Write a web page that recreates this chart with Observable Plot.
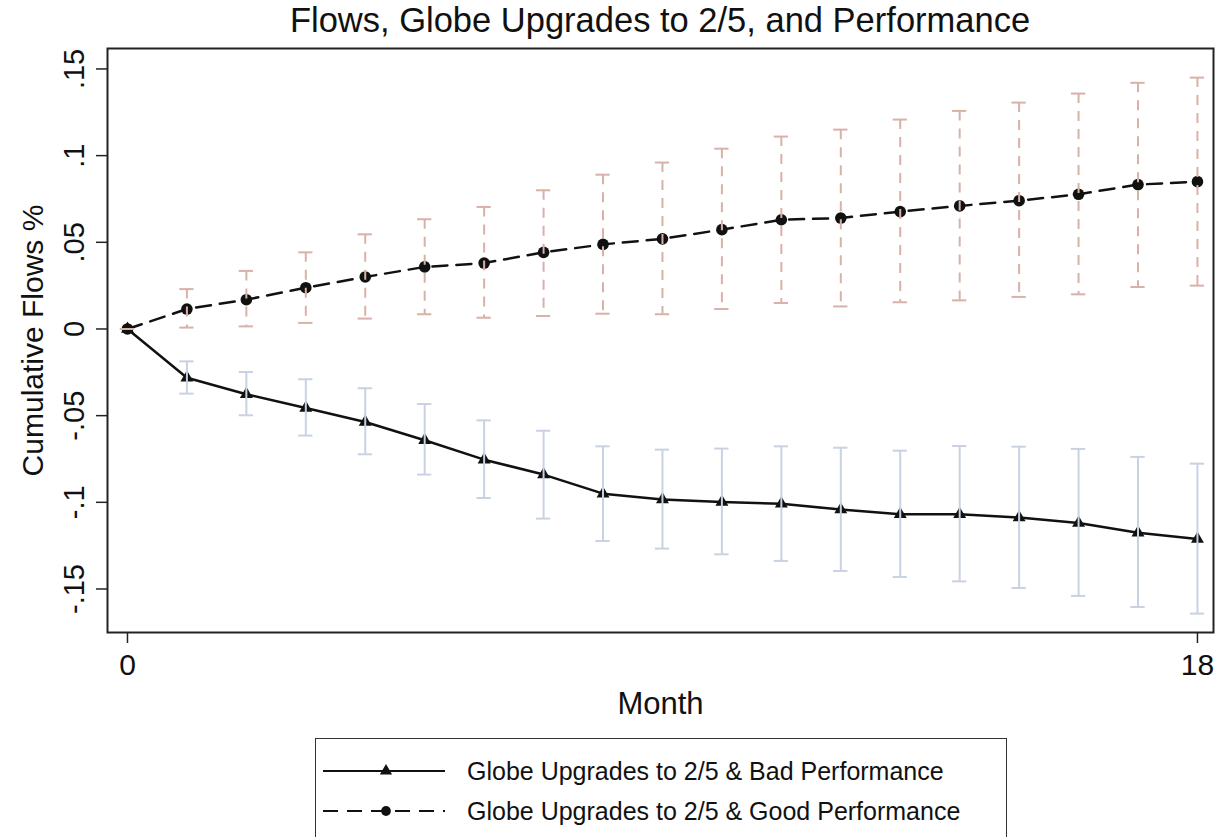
<!DOCTYPE html>
<html>
<head>
<meta charset="utf-8">
<script src="https://cdn.jsdelivr.net/npm/d3@7"></script>
<script src="https://cdn.jsdelivr.net/npm/@observablehq/plot@0.6"></script>
<style>
  html, body { margin: 0; padding: 0; background: #fff; }
  body { width: 1218px; height: 837px; overflow: hidden; font-family: "Liberation Sans", Arial, sans-serif; color: #111; position: relative; }
  #title { position: absolute; left: 107px; width: 1106px; top: 0; height: 40px; line-height: 40px; text-align: center; font-size: 34.5px; }
  #chart { position: absolute; left: 0; top: 40px; }
  #legend { position: absolute; left: 315px; top: 738px; width: 692px; height: 120px; border: 1.5px solid #333; box-sizing: border-box; }
  .row { position: absolute; left: 0; height: 30px; display: flex; align-items: center; font-size: 25px; white-space: nowrap; }
  .row svg { margin-left: 5px; margin-right: 21px; }
</style>
</head>
<body>
<div id="title">Flows, Globe Upgrades to 2/5, and Performance</div>
<div id="chart"></div>
<div id="legend"></div>
<script>
const months = [0, 1, 2, 3, 4, 5, 6, 7, 8, 9, 10, 11, 12, 13, 14, 15, 16, 17, 18];
const goodMean = [0, 0.0115, 0.0169, 0.0238, 0.0300, 0.0358, 0.0380, 0.0442, 0.0488, 0.0520, 0.0573, 0.0630, 0.0640, 0.0677, 0.0710, 0.0740, 0.0777, 0.0833, 0.0850];
const goodHi = [0, 0.0230, 0.0335, 0.0442, 0.0546, 0.0633, 0.0704, 0.0800, 0.0890, 0.0960, 0.1040, 0.1110, 0.1150, 0.1208, 0.1258, 0.1306, 0.1358, 0.1420, 0.1450];
const goodLo = [0, 0.0008, 0.0015, 0.0035, 0.0060, 0.0085, 0.0065, 0.0075, 0.0088, 0.0085, 0.0115, 0.0150, 0.0130, 0.0154, 0.0165, 0.0185, 0.0200, 0.0242, 0.0250];
const badMean = [0, -0.0281, -0.0377, -0.0456, -0.0537, -0.0642, -0.0754, -0.0840, -0.0950, -0.0984, -0.0998, -0.1008, -0.1042, -0.1069, -0.1069, -0.1088, -0.1119, -0.1175, -0.1212];
const badHi = [0, -0.0187, -0.0248, -0.0290, -0.0342, -0.0433, -0.0527, -0.0587, -0.0677, -0.0696, -0.0690, -0.0677, -0.0685, -0.0702, -0.0675, -0.0679, -0.0692, -0.0738, -0.0777];
const badLo = [0, -0.0373, -0.0498, -0.0615, -0.0723, -0.0840, -0.0975, -0.1094, -0.1223, -0.1267, -0.1300, -0.1338, -0.1396, -0.1431, -0.1456, -0.1494, -0.1540, -0.1604, -0.1642];
const yTicks = [0.15, 0.1, 0.05, 0, -0.05, -0.1, -0.15];
const yTickLabels = [".15", ".1", ".05", "0", "-.05", "-.1", "-.15"];
const xTicks = [0, 18];
const seriesNames = ["Globe Upgrades to 2/5 & Bad Performance", "Globe Upgrades to 2/5 & Good Performance"];

const good = months.map((m, i) => ({m, v: goodMean[i], lo: goodLo[i], hi: goodHi[i]}));
const bad = months.map((m, i) => ({m, v: badMean[i], lo: badLo[i], hi: badHi[i]}));

const goodCI = "#d8b1a8";
const badCI = "#c8d2e3";
const capHalf = 0.12;

const plot = Plot.plot({
  width: 1218,
  height: 698,
  marginTop: 8,
  marginBottom: 106,
  marginLeft: 107,
  marginRight: 5,
  style: {fontFamily: "'Liberation Sans', Arial, sans-serif", color: "#111", background: "transparent"},
  x: {domain: [-0.336, 18.27], axis: null},
  y: {domain: [-0.1751, 0.1618], axis: null},
  marks: [
    Plot.axisY(yTicks, {anchor: "left", label: null, tickSize: 11, tickFormat: () => "", stroke: "#222", strokeWidth: 1.5}),
    Plot.axisX(xTicks, {anchor: "bottom", label: null, tickSize: 11, tickFormat: () => "", stroke: "#222", strokeWidth: 1.5}),
    Plot.text(yTicks, {y: d => d, text: (d, i) => yTickLabels[i], frameAnchor: "left", dx: -33, rotate: -90, fontSize: 29, textAnchor: "middle", fill: "#111"}),
    Plot.text(xTicks, {x: d => d, text: d => String(d), frameAnchor: "bottom", dy: 42, fontSize: 30, fill: "#111"}),
    Plot.text(["Month"], {text: d => d, frameAnchor: "bottom", dy: 81, fontSize: 31, fill: "#111"}),
    Plot.text(["Cumulative Flows %"], {text: d => d, frameAnchor: "left", dx: -74, rotate: -90, textAnchor: "middle", fontSize: 30, fill: "#111"}),
    Plot.line(bad, {x: "m", y: "v", stroke: "#111", strokeWidth: 2.5}),
    Plot.line(good, {x: "m", y: "v", stroke: "#111", strokeWidth: 2.5, strokeDasharray: "15,9"}),
    Plot.dot(bad, {x: "m", y: "v", symbol: "triangle", r: 4.8, fill: "#111", stroke: "none"}),
    Plot.dot(good, {x: "m", y: "v", symbol: "circle", r: 5.8, fill: "#111", stroke: "none"}),
    Plot.ruleX(bad.slice(1), {x: "m", y1: "lo", y2: "hi", stroke: badCI, strokeWidth: 2}),
    Plot.ruleY(bad.slice(1), {y: "hi", x1: d => d.m - capHalf, x2: d => d.m + capHalf, stroke: badCI, strokeWidth: 2}),
    Plot.ruleY(bad.slice(1), {y: "lo", x1: d => d.m - capHalf, x2: d => d.m + capHalf, stroke: badCI, strokeWidth: 2}),
    Plot.ruleX(good, {x: "m", y1: "hi", y2: "lo", stroke: goodCI, strokeWidth: 2, strokeDasharray: "10,8"}),
    Plot.ruleY(good, {y: "hi", x1: d => d.m - capHalf, x2: d => d.m + capHalf, stroke: goodCI, strokeWidth: 2}),
    Plot.ruleY(good, {y: "lo", x1: d => d.m - capHalf, x2: d => d.m + capHalf, stroke: goodCI, strokeWidth: 2}),
    Plot.frame({stroke: "#222", strokeWidth: 2})
  ]
});
document.getElementById("chart").appendChild(plot);

const legend = d3.select("#legend");
const rows = [
  {name: seriesNames[0], dash: null, symbol: d3.symbolTriangle, top: 17},
  {name: seriesNames[1], dash: "15,9", symbol: d3.symbolCircle, top: 57}
];
rows.forEach(r => {
  const row = legend.append("div").attr("class", "row").style("top", r.top + "px");
  const svg = row.append("svg").attr("width", 125).attr("height", 20);
  svg.append("line").attr("x1", 2).attr("x2", 124).attr("y1", 10).attr("y2", 10)
    .attr("stroke", "#111").attr("stroke-width", 2.2).attr("stroke-dasharray", r.dash);
  svg.append("path").attr("d", d3.symbol(r.symbol, r.symbol === d3.symbolCircle ? 75 : 65)())
    .attr("transform", "translate(65,10)").attr("fill", "#111");
  row.append("span").text(r.name);
});
</script>
</body>
</html>
